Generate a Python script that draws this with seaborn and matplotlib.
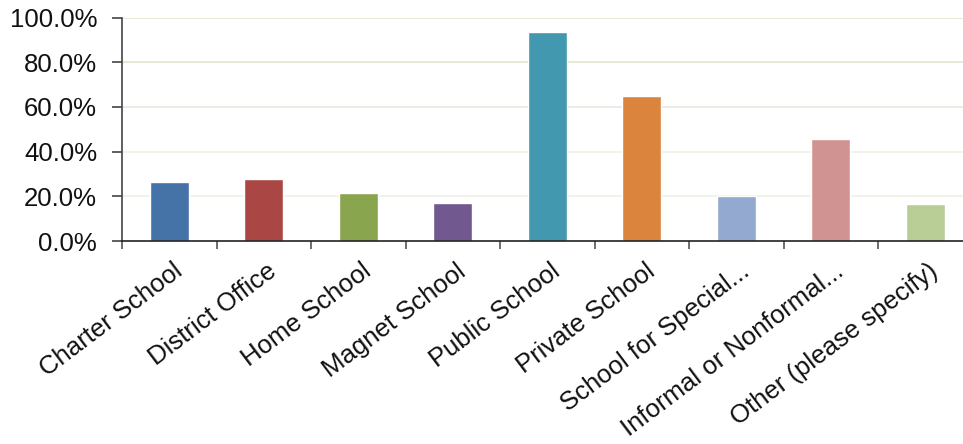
import matplotlib
matplotlib.use("Agg")
import matplotlib.pyplot as plt
import matplotlib.transforms as mtransforms
from matplotlib.ticker import FuncFormatter
import seaborn as sns
import pandas as pd

categories = ["Charter School", "District Office", "Home School", "Magnet School",
              "Public School", "Private School", "School for Special...",
              "Informal or Nonformal...", "Other (please specify)"]
values = [26.3, 27.6, 21.4, 16.9, 93.5, 64.8, 20.0, 45.5, 16.4]
colors = ["#4572A7", "#AA4643", "#89A54E", "#71588F", "#4198AF",
          "#DB843D", "#93A9CF", "#D19392", "#B9CD96"]
y_ticks = [0, 20, 40, 60, 80, 100]

sns.set_theme(style="white")
plt.rcParams["font.family"] = ["Liberation Sans", "DejaVu Sans"]

df = pd.DataFrame({"category": categories, "value": values})

fig = plt.figure(figsize=(9.63, 4.44), dpi=100)
ax = fig.add_axes([122 / 963, (444 - 241) / 444, 850.5 / 963, 223.4 / 444])

sns.barplot(data=df, x="category", y="value", hue="category", order=categories,
            hue_order=categories, palette=colors, width=0.41, dodge=False,
            legend=False, saturation=1, ax=ax)

ax.set_xlim(-0.5, len(categories) - 0.5)
ax.set_ylim(0, 100)
ax.set_yticks(y_ticks)
ax.yaxis.set_major_formatter(FuncFormatter(lambda v, p: f"{v:.1f}%"))
ax.set_xlabel("")
ax.set_ylabel("")

# grid lines
ax.set_axisbelow(True)
ax.yaxis.grid(True, linewidth=1.3)
grid_colors = ["#ffffff", "#eef2e6", "#eef2e6", "#e9ebe2", "#e1ebcf", "#e1ebcf"]
for gl, c in zip(ax.get_ygridlines(), grid_colors):
    gl.set_color(c)

for s in ["top", "right"]:
    ax.spines[s].set_visible(False)
ax.spines["left"].set_color("#444444")
ax.spines["left"].set_linewidth(1.2)
ax.spines["bottom"].set_color("#222222")
ax.spines["bottom"].set_linewidth(1.2)

# x ticks at category boundaries
ax.set_xticks([i - 0.5 for i in range(len(categories))], minor=True)
ax.tick_params(axis="x", which="minor", length=6, width=1.2, color="#555555",
               direction="out", bottom=True)
ax.tick_params(axis="x", which="major", length=0, pad=13, labelsize=18.5,
               labelcolor="#111111")
ax.tick_params(axis="y", length=7, width=1.2, color="#444444", direction="out",
               left=True, pad=11, labelsize=18.5, labelcolor="#111111")

ax.set_xticks(range(len(categories)))
ax.set_xticklabels(categories, rotation=37, ha="right", rotation_mode="anchor")
offset = mtransforms.ScaledTranslation(0.03, 0.0, fig.dpi_scale_trans)
for lab in ax.get_xticklabels():
    lab.set_transform(lab.get_transform() + offset)

fig.savefig("out.png", dpi=100)
